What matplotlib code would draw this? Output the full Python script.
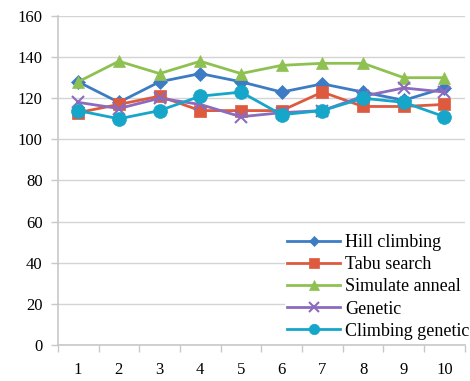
import matplotlib
matplotlib.use("Agg")
import matplotlib.pyplot as plt

# -------------------------------------------------------------------------
# Data
# -------------------------------------------------------------------------
runs = [1, 2, 3, 4, 5, 6, 7, 8, 9, 10]
hill_climbing = [128, 118, 128, 132, 128, 123, 127, 123, 119, 125]
tabu_search = [113, 117, 121, 114, 114, 114, 123, 116, 116, 117]
simulate_anneal = [128, 138, 132, 138, 132, 136, 137, 137, 130, 130]
genetic = [118, 115, 120, 117, 111, 113, 114, 121, 125, 123]
climbing_genetic = [114, 110, 114, 121, 123, 112, 114, 120, 118, 111]

series = [
    ("Hill climbing", hill_climbing, "#3d7cc4", "D", 7),
    ("Tabu search", tabu_search, "#de5a3e", "s", 9),
    ("Simulate anneal", simulate_anneal, "#8fc152", "^", 9),
    ("Genetic", genetic, "#8c6bbd", "x", 9),
    ("Climbing genetic", climbing_genetic, "#16a6c9", "o", 10),
]

plt.rcParams['font.family'] = ['Liberation Serif', 'DejaVu Serif']

fig = plt.figure(figsize=(4.7, 3.81), dpi=100)
ax = fig.add_axes([0.123, 0.0945, 0.866, 0.8635])

for name, vals, col, mk, ms in series:
    ax.plot(runs, vals, color=col, marker=mk, markersize=ms, linewidth=2,
            markeredgewidth=1.5 if mk == "x" else 0.5, label=name)

ax.set_xlim(0.5, 10.5)
ax.set_ylim(0, 160)
ax.set_yticks(range(0, 161, 20))
ax.set_xticks(runs)
ax.set_xticks([x + 0.5 for x in range(0, 11)], minor=True)
ax.tick_params(axis='x', which='major', length=0, pad=12, labelsize=12)
ax.tick_params(axis='x', which='minor', length=5, color='#c8c8c8', width=1)
ax.tick_params(axis='y', length=5, color='#c8c8c8', width=1, labelsize=12, pad=6)
ax.grid(axis='y', color='#d4d4d4', linewidth=1)
ax.set_axisbelow(True)
for s in ['top', 'right']:
    ax.spines[s].set_visible(False)
for s in ['left', 'bottom']:
    ax.spines[s].set_color('#c8c8c8')
    ax.spines[s].set_linewidth(1.2)

leg = ax.legend(loc='lower right', bbox_to_anchor=(1.025, 0.0), fontsize=13,
                frameon=True, fancybox=False, edgecolor='none', framealpha=1,
                handlelength=2.9, handletextpad=0.3, labelspacing=0.28,
                borderpad=0.15, borderaxespad=0.15, markerscale=0.75)

fig.savefig("out.png", dpi=100)
